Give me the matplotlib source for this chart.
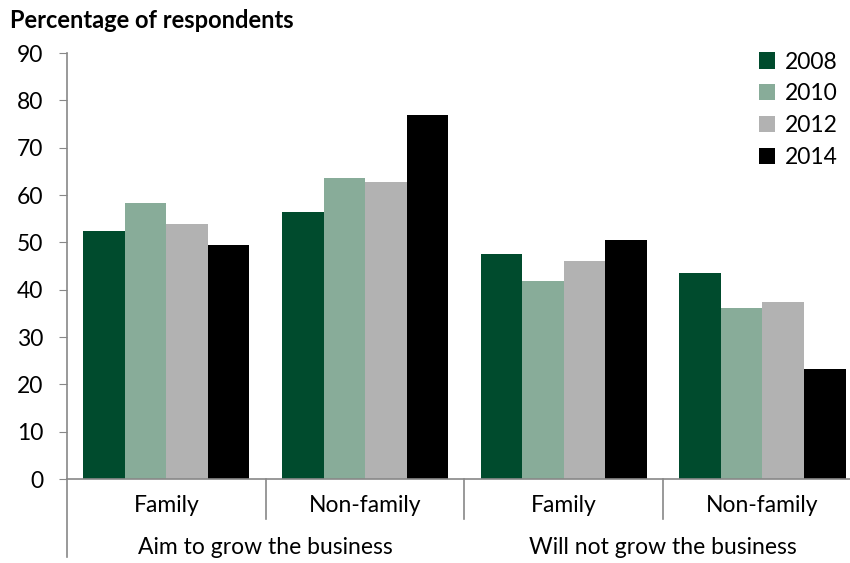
import numpy as np
import matplotlib.pyplot as plt

plt.rcParams["font.family"] = ["Lato", "DejaVu Sans"]

subgroups = ["Family", "Non-family", "Family", "Non-family"]
groups = ["Aim to grow the business", "Will not grow the business"]
years = ["2008", "2010", "2012", "2014"]
values = {
    "2008": [52.4, 56.4, 47.5, 43.5],
    "2010": [58.3, 63.6, 41.8, 36.1],
    "2012": [53.9, 62.7, 46.1, 37.4],
    "2014": [49.4, 76.9, 50.5, 23.2],
}
colors = ["#004b2d", "#88ac99", "#b2b2b2", "#000000"]

fig = plt.figure(figsize=(8.5, 5.63), dpi=100)
ax = fig.add_axes([67 / 850, 1 - 479 / 563, 1 - 67 / 850, (479 - 53) / 563])

x = np.arange(len(subgroups))
width = 0.209
for i, (yr, c) in enumerate(zip(years, colors)):
    ax.bar(x - 1.5 * width + i * width, values[yr], width, color=c, label=yr)

ax.set_xlim(-0.5, -0.5 + (850 - 67) / 198.7)
ax.set_ylim(0, 90)
ax.set_yticks(range(0, 91, 10))
ax.tick_params(axis="y", direction="out", length=6, color="#888888",
               labelsize=16.5, pad=11)
ax.set_xticks([])
for s in ["top", "right"]:
    ax.spines[s].set_visible(False)
for s in ["left", "bottom"]:
    ax.spines[s].set_color("#888888")
    ax.spines[s].set_linewidth(1.2)

# category separators and two-level labels below the axis
trans = ax.get_xaxis_transform()
for b in [0.5, 1.5, 2.5]:
    ax.plot([b, b], [0, -0.093], color="#888888", lw=1.2, transform=trans,
            clip_on=False)
ax.plot([-0.5, -0.5], [0, -0.183], color="#888888", lw=1.2, transform=trans,
        clip_on=False)
for xi, lab in zip(x, subgroups):
    ax.text(xi, -0.062, lab, transform=trans, ha="center", va="center",
            fontsize=16.5)
for xi, lab in zip([0.5, 2.5], groups):
    ax.text(xi, -0.16, lab, transform=trans, ha="center", va="center",
            fontsize=16.5)

fig.text(10 / 850, 1 - 20 / 563, "Percentage of respondents", fontsize=17,
         fontweight="bold", va="center", ha="left")

ax.legend(loc="upper left", bbox_to_anchor=(0.872, 1.025), frameon=False,
          fontsize=16.5, handlelength=0.7, handleheight=0.7,
          handletextpad=0.45, labelspacing=0.47, borderaxespad=0)

fig.savefig("out.png", dpi=100)
